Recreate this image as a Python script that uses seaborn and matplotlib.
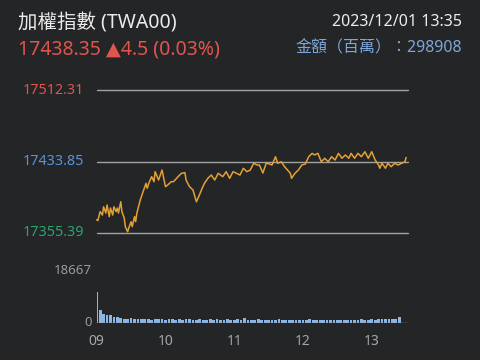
import matplotlib
matplotlib.use("Agg")
import matplotlib.pyplot as plt
import seaborn as sns
import pandas as pd

# ---- data ----
price_minutes = [0, 1, 3, 5, 6, 8, 9, 11, 12, 14, 15, 17, 18, 19, 21, 22, 24, 25, 27, 28,
                 30, 31, 33, 34, 35, 38, 41, 43, 44, 46, 48, 50, 51, 54, 57, 60, 62, 65,
                 67, 71, 74, 77, 78, 81, 84, 87, 89, 92, 94, 97, 100, 103, 106, 110, 113,
                 116, 119, 122, 125, 128, 131, 134, 137, 140, 142, 145, 148, 153, 156, 158,
                 161, 164, 169, 170, 173, 176, 179, 182, 185, 188, 190, 193, 196, 199, 202,
                 205, 208, 211, 214, 217, 220, 222, 225, 228, 231, 234, 237, 240, 243, 246,
                 247, 249, 252, 254, 257, 260, 263, 266, 269, 270]
price_values = [17370.0, 17368.9, 17378.8, 17375.1, 17384.2, 17377.3, 17386.1, 17373.3,
                17382.8, 17375.1, 17384.2, 17378.8, 17382.8, 17377.3, 17389.7, 17378.8,
                17371.8, 17362.3, 17356.8, 17360.9, 17367.8, 17362.3, 17373.3, 17367.8,
                17377.0, 17391.6, 17402.6, 17409.9, 17404.4, 17411.7, 17417.2, 17411.7,
                17422.7, 17413.5, 17424.5, 17406.2, 17408.1, 17411.7, 17411.7, 17417.2,
                17420.9, 17421.6, 17413.5, 17406.2, 17402.6, 17389.7, 17395.2, 17404.4,
                17409.9, 17415.4, 17419.0, 17413.5, 17420.9, 17417.2, 17422.7, 17415.4,
                17422.7, 17420.9, 17419.0, 17426.4, 17422.7, 17424.5, 17431.9, 17430.0,
                17430.0, 17421.2, 17432.2, 17430.0, 17439.1, 17431.9, 17433.6, 17428.1,
                17420.9, 17415.4, 17420.9, 17424.5, 17430.0, 17431.1, 17439.1, 17442.8,
                17441.0, 17442.8, 17433.6, 17437.4, 17433.6, 17439.1, 17435.5, 17442.8,
                17437.4, 17441.0, 17437.4, 17442.8, 17437.4, 17442.8, 17439.1, 17444.6,
                17437.4, 17444.6, 17435.5, 17430.0, 17426.4, 17431.9, 17426.4, 17431.9,
                17428.1, 17431.9, 17430.0, 17431.9, 17433.6, 17438.35]

volume_values = [10800, 4300, 3200, 2600, 2500, 2000, 1800, 1500, 1400, 1300, 1500, 1200,
                 1300, 1100, 1200, 1400, 1000, 1200, 1100, 1300, 1000, 1100, 1200, 900,
                 1100, 1000, 1300, 1100, 900, 1000, 1200, 1000, 900, 1100, 1000, 1200, 900,
                 1000, 1100, 900, 1000, 1200, 900, 1600, 1000, 900, 1000, 1100, 900, 1000,
                 800, 1000, 900, 1100, 800, 900, 1000, 800, 900, 1000, 800, 900, 1100, 800,
                 900, 800, 1000, 900, 800, 900, 1000, 800, 900, 800, 1000, 900, 1000, 1100,
                 900, 1000, 1200, 1000, 1100, 1300, 1100, 1200, 1400, 1300, 1800]
volume_minutes = [3 * i for i in range(len(volume_values))]

ref_levels = [17512.31, 17433.85, 17355.39]
ref_labels = ["17512.31", "17433.85", "17355.39"]
ref_colors = ["#e0554c", "#5b93d8", "#2ba36c"]
vol_max = 18667
hour_ticks = [0, 60, 120, 180, 240]
hour_labels = ["09", "10", "11", "12", "13"]

title_text = "加權指數 (TWA00)"
quote_text = "17438.35 ▲4.5 (0.03%)"
time_text = "2023/12/01 13:35"
amount_text = "金額（百萬）：298908"

# ---- style ----
BG = "#242527"
sns.set_theme(style="dark")
plt.rcParams["font.family"] = ["Noto Sans", "Noto Sans CJK TC", "DejaVu Sans"]

fig = plt.figure(figsize=(4.8, 3.6), dpi=100, facecolor=BG)
W, H = 480.0, 360.0

def fx(px):
    return px / W

def fy(py):
    return 1 - py / H

x0, x1 = 96.7, 408.4
xlim = (0, 272)

# price axes
ax = fig.add_axes([fx(x0), fy(233), fx(x1) - fx(x0), fy(90) - fy(233)])
ax.set_facecolor("none")
for lvl in ref_levels:
    ax.axhline(lvl, color="#a3a3a3", lw=1.0, zorder=1)
df = pd.DataFrame({"m": price_minutes, "p": price_values})
sns.lineplot(data=df, x="m", y="p", ax=ax, color="#e3a035", lw=1.1, zorder=3)
for line in ax.lines:
    line.set_clip_on(False)
ax.set_xlim(*xlim)
ax.set_ylim(ref_levels[2], ref_levels[0])
ax.axis("off")

for lvl, lab, col in zip(ref_levels, ref_labels, ref_colors):
    ax.text(-12.5 / 68.75 * 60, lvl, lab, color=col, fontsize=10.3, ha="right", va="center",
            clip_on=False)

# volume axes
vax = fig.add_axes([fx(x0), fy(322.5), fx(x1) - fx(x0), fy(270) - fy(322.5)])
vax.set_facecolor("none")
vdf = pd.DataFrame({"m": volume_minutes, "v": volume_values})
sns.barplot(data=vdf, x="m", y="v", ax=vax, native_scale=True, color="#8cb6e6",
            saturation=1, width=0.8, errorbar=None, linewidth=0)
vax.axhline(0, color="#8a8a8a", lw=1.0)
vax.set_xlim(*xlim)
vax.set_ylim(0, vol_max)
for s in vax.spines.values():
    s.set_visible(False)
vax.set_xlabel("")
vax.set_ylabel("")
vax.set_yticks([])
vax.set_xticks(hour_ticks)
vax.set_xticklabels(hour_labels, color="#a5a5a5", fontsize=10)
vax.tick_params(axis="x", length=0, pad=8)
vax.grid(False)

fig.text(fx(92), fy(270), str(vol_max), color="#9a9a9a", fontsize=9.5, ha="right", va="center")
fig.text(fx(92), fy(322), "0", color="#9a9a9a", fontsize=9.5, ha="right", va="center")

# header texts
fig.text(fx(18), fy(23), title_text, color="#ececec", fontsize=14, ha="left", va="center")
fig.text(fx(18), fy(49), quote_text, color="#e0554c", fontsize=14, ha="left", va="center",
         family=["Noto Sans", "DejaVu Sans", "Noto Sans CJK TC"])
fig.text(fx(462), fy(22), time_text, color="#ececec", fontsize=11.5, ha="right", va="center")
fig.text(fx(462), fy(48), amount_text, color="#7ea6d6", fontsize=11.5, ha="right", va="center")

fig.savefig("out.png", dpi=100, facecolor=BG)
